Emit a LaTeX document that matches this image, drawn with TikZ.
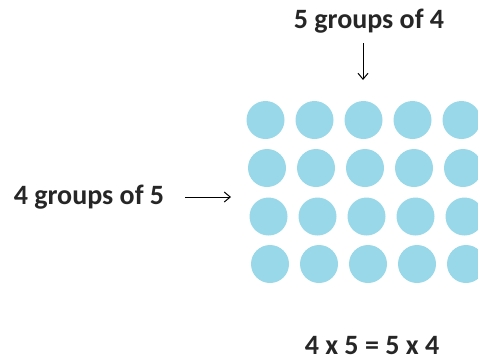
\documentclass[tikz,border=0pt]{standalone}
\usepackage{fontspec}
\setmainfont{Carlito}
\usetikzlibrary{arrows.meta}
\definecolor{dotblue}{RGB}{152,216,232}
\begin{document}
\begin{tikzpicture}[x=1pt,y=-1pt,
  lbl/.style={font=\fontsize{28}{30}\selectfont\bfseries, text=black!85, inner sep=0pt},
  dot/.style={circle, fill=dotblue, minimum size=38pt, inner sep=0pt},
  arr/.style={-{Straight Barb[length=6pt,width=10pt]}, line width=1pt}]
\useasboundingbox (0,0) rectangle (478,360);
\clip (0,0) rectangle (478,360);
% dots
\foreach \r/\y/\x in {1/120/265.5, 2/168/267, 3/216.5/268.5, 4/264/270}{
  \foreach \c in {1,...,5}{
    \node[dot] (d\r\c) at ({\x+(\c-1)*49}, \y) {};
  }
}
\node[lbl] (top) at (369,21) {5 groups of 4};
\node[lbl] (left) at (89,197) {4 groups of 5};
\node[lbl] (eq) at (372,345) {4 x 5 = 5 x 4};
\coordinate (ta) at (363,43);
\coordinate (tb) at (363,80);
\coordinate (la) at (185,197);
\coordinate (lb) at (231,197);
\draw[arr] (ta) -- (tb);
\draw[arr] (la) -- (lb);
\end{tikzpicture}
\end{document}
